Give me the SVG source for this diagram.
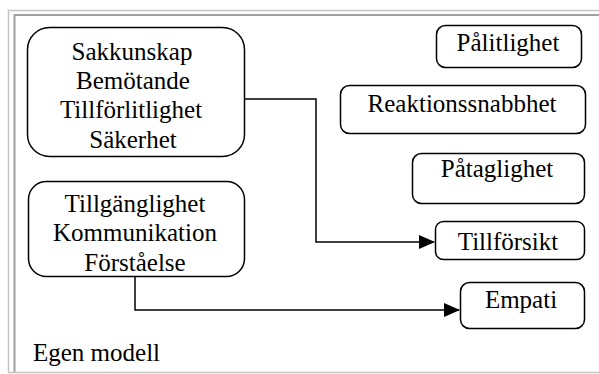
<svg xmlns="http://www.w3.org/2000/svg" width="599" height="374" viewBox="0 0 599 374">
<defs>
<style>
.box{fill:#fff;stroke:#000;stroke-width:1.5}
.t{font-family:"Liberation Serif","Times New Roman",serif;font-size:25px;fill:#000;text-anchor:middle}
.line{fill:none;stroke:#000;stroke-width:1.5}
</style>
<marker id="arr" markerWidth="16" markerHeight="14" refX="15" refY="7" orient="auto" markerUnits="userSpaceOnUse">
<path d="M0,0 L16,7 L0,14 Z" fill="#000"/>
</marker>
</defs>
<rect width="599" height="374" fill="#fff"/>
<g id="frame" fill="none">
<path d="M8.5,372 V10.5 H599" stroke="#c4c4c4" stroke-width="1.5"/>
<path d="M14.5,372 V15 H599" stroke="#a0a0a0" stroke-width="2"/>
<path d="M8,372.5 H599" stroke="#c4c4c4" stroke-width="1.5"/>
</g>
<g id="connectors">
<path class="line" d="M245,99 H316 V242 H434" marker-end="url(#arr)"/>
<path class="line" d="M135,277 V310 H459" marker-end="url(#arr)"/>
</g>
<g id="n1">
<rect class="box" x="27.5" y="27.5" width="217" height="129" rx="22"/>
<text class="t" x="132" y="60">Sakkunskap</text>
<text class="t" x="133" y="89">Bemötande</text>
<text class="t" x="131" y="118">Tillförlitlighet</text>
<text class="t" x="133" y="148">Säkerhet</text>
</g>
<g id="n2">
<rect class="box" x="28.5" y="181.5" width="216" height="95" rx="18"/>
<text class="t" x="135" y="212">Tillgänglighet</text>
<text class="t" x="135" y="241">Kommunikation</text>
<text class="t" x="135" y="271">Förståelse</text>
</g>
<g id="n3">
<rect class="box" x="436.5" y="25.5" width="145" height="42" rx="9"/>
<text class="t" x="508" y="51">Pålitlighet</text>
</g>
<g id="n4">
<rect class="box" x="340.5" y="85.5" width="245" height="48" rx="9"/>
<text class="t" x="462" y="112">Reaktionssnabbhet</text>
</g>
<g id="n5">
<rect class="box" x="412.5" y="153.5" width="172" height="50" rx="9"/>
<text class="t" x="497" y="177">Påtaglighet</text>
</g>
<g id="n6">
<rect class="box" x="435.5" y="221.5" width="149" height="38" rx="8"/>
<text class="t" x="508" y="250">Tillförsikt</text>
</g>
<g id="n7">
<rect class="box" x="460.5" y="282.5" width="124" height="46" rx="9"/>
<text class="t" x="521" y="308">Empati</text>
</g>
<text class="t" x="33" y="361" style="text-anchor:start">Egen modell</text>
</svg>
